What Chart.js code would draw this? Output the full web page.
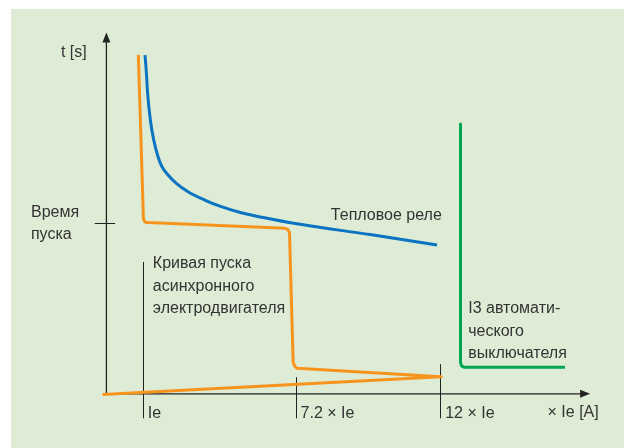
<!DOCTYPE html>
<html>
<head>
<meta charset="utf-8">
<script src="https://cdn.jsdelivr.net/npm/chart.js@4/dist/chart.umd.min.js"></script>
<style>
  html, body { margin: 0; padding: 0; background: #ffffff; }
  #wrap { position: relative; width: 624px; height: 448px; }
  #bg { position: absolute; left: 11px; top: 9px; right: 0; bottom: 0; background: #deecd6; }
  canvas { position: absolute; left: 0; top: 0; }
</style>
</head>
<body>
<div id="wrap"><div id="bg"></div><canvas id="chart" width="624" height="448"></canvas></div>
<script>
// schematic units: axes cross at (0, 0), arrow tips sit at 100 on both axes

// motor starting curve (orange)
const motorCurrent = [6.6, 7.65, 7.98, 8.6, 36.9, 37.5, 37.85, 38.6, 38.9, 39.4, 69.2, -0.8];
const motorTime = [93.8, 48.4, 47.5, 47.4, 45.8, 45.5, 44.5, 8.8, 7.7, 7.06, 4.7, -0.2];

// thermal relay (blue)
const relayCurrent = [7.98, 8.29, 8.5, 9.08, 9.78, 10.67, 11.49, 12.74, 14.45, 16.87, 20.32, 23.75, 27.89, 40.02, 54.5, 68.35];
const relayTime = [93.77, 88.24, 83.5, 75.78, 70.24, 65.62, 62.86, 60.56, 58.26, 55.94, 53.64, 51.79, 50.12, 46.91, 44.09, 41.18];

// breaker I3 (green)
const breakerCurrent = [73.2, 73.2, 73.4, 74.0, 94.8];
const breakerTime = [74.7, 8.8, 7.7, 7.33, 7.33];

// axis ticks
const xTickValues = [7.5, 39.1, 69.0];
const xTickLabels = ["Ie", "7.2 × Ie", "12 × Ie"];
const startTime = 47.2;

function toPoints(xs, ys) {
  return xs.map((v, i) => ({ x: v, y: ys[i] }));
}

const textColor = "#333333";
const axisColor = "#222222";
const font = "16px 'Liberation Sans', Arial, sans-serif";
const lineStep = 6.23;

// where the tick lines reach up to
const xTickTops = [36.5, 4.6, 8.2];

const labels = [
  { text: "t [s]", x: -9.4, y: 93.3 },
  { text: "Время", x: -15.6, y: 49.0 },
  { text: "пуска", x: -15.6, y: 49.0 - lineStep },
  { text: "Кривая пуска", x: 9.6, y: 34.8 },
  { text: "асинхронного", x: 9.6, y: 34.8 - lineStep },
  { text: "электродвигателя", x: 9.6, y: 34.8 - 2 * lineStep },
  { text: "Тепловое реле", x: 46.4, y: 48.1 },
  { text: "I3 автомати-", x: 74.8, y: 22.3 },
  { text: "ческого", x: 74.8, y: 22.3 - lineStep },
  { text: "выключателя", x: 74.8, y: 22.3 - 2 * lineStep },
  { text: "× Ie [A]", x: 91.2, y: -6.3 },
];

const schemePlugin = {
  id: "scheme",
  beforeDatasetsDraw(chart) {
    const { ctx } = chart;
    const px = (v) => chart.scales.x.getPixelForValue(v);
    const py = (v) => chart.scales.y.getPixelForValue(v);
    ctx.save();
    ctx.strokeStyle = axisColor;
    ctx.fillStyle = axisColor;
    ctx.lineWidth = 1.3;

    // y axis + arrow
    ctx.beginPath();
    ctx.moveTo(px(0), py(0));
    ctx.lineTo(px(0), py(100) + 8);
    ctx.stroke();
    ctx.beginPath();
    ctx.moveTo(px(0), py(100));
    ctx.lineTo(px(0) - 4, py(100) + 10);
    ctx.lineTo(px(0) + 4, py(100) + 10);
    ctx.closePath();
    ctx.fill();

    // x axis + arrow
    ctx.beginPath();
    ctx.moveTo(px(0), py(0));
    ctx.lineTo(px(100) - 8, py(0));
    ctx.stroke();
    ctx.beginPath();
    ctx.moveTo(px(100), py(0));
    ctx.lineTo(px(100) - 10, py(0) - 4);
    ctx.lineTo(px(100) - 10, py(0) + 4);
    ctx.closePath();
    ctx.fill();

    // x ticks
    ctx.lineWidth = 1;
    xTickValues.forEach((v, i) => {
      ctx.beginPath();
      ctx.moveTo(Math.round(px(v)) + 0.5, py(xTickTops[i]));
      ctx.lineTo(Math.round(px(v)) + 0.5, py(-6.8));
      ctx.stroke();
    });

    // starting time tick on y axis
    ctx.beginPath();
    ctx.moveTo(px(-2.4), Math.round(py(startTime)) + 0.5);
    ctx.lineTo(px(1.8), Math.round(py(startTime)) + 0.5);
    ctx.stroke();
    ctx.restore();
  },
  afterDatasetsDraw(chart) {
    const { ctx } = chart;
    const px = (v) => chart.scales.x.getPixelForValue(v);
    const py = (v) => chart.scales.y.getPixelForValue(v);
    ctx.save();
    ctx.fillStyle = textColor;
    ctx.font = font;
    ctx.textAlign = "left";
    ctx.textBaseline = "alphabetic";
    labels.forEach((l) => ctx.fillText(l.text, px(l.x), py(l.y)));
    xTickValues.forEach((v, i) => {
      ctx.fillText(xTickLabels[i], px(v) + 5, py(-6.8));
    });
    ctx.restore();
  },
};

const lineStyle = {
  showLine: true,
  pointRadius: 0,
  borderWidth: 3,
  fill: false,
  borderJoinStyle: "round",
  borderCapStyle: "butt",
};

new Chart(document.getElementById("chart"), {
  type: "scatter",
  data: {
    datasets: [
      {
        ...lineStyle,
        label: "Тепловое реле",
        data: toPoints(relayCurrent, relayTime),
        borderColor: "#0a73c2",
        cubicInterpolationMode: "monotone",
      },
      {
        ...lineStyle,
        label: "Кривая пуска",
        data: toPoints(motorCurrent, motorTime),
        borderColor: "#f7941d",
        tension: 0,
      },
      {
        ...lineStyle,
        label: "I3",
        data: toPoints(breakerCurrent, breakerTime),
        borderColor: "#00a651",
        tension: 0,
      },
    ],
  },
  options: {
    responsive: false,
    animation: false,
    devicePixelRatio: 1,
    layout: { padding: 0 },
    scales: {
      x: { type: "linear", min: -22, max: 107, display: false },
      y: { type: "linear", min: -15, max: 109, display: false },
    },
    plugins: {
      legend: { display: false },
      tooltip: { enabled: false },
    },
  },
  plugins: [schemePlugin],
});
</script>
</body>
</html>
